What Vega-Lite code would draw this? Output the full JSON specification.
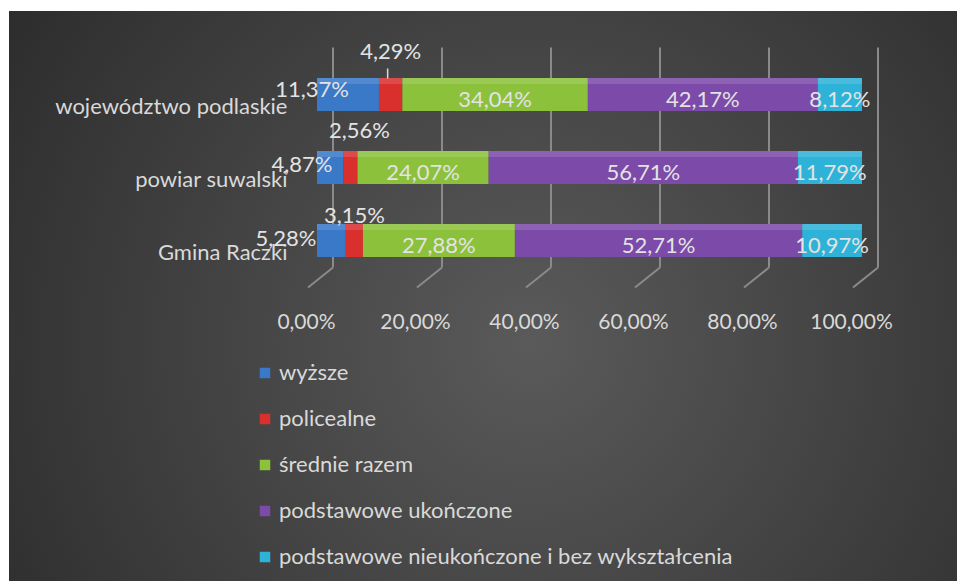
{
  "$schema": "https://vega.github.io/schema/vega-lite/v6.json",
  "width": 957,
  "height": 581,
  "autosize": {"type": "fit", "contains": "padding"},
  "padding": {"left": 9, "top": 11, "right": 0, "bottom": 0},
  "background": "#ffffff",
  "config": {
    "view": {
      "stroke": null,
      "fill": {
        "gradient": "radial",
        "x1": 0.55, "y1": 0.55, "r1": 0,
        "x2": 0.55, "y2": 0.55, "r2": 0.75,
        "stops": [
          {"offset": 0, "color": "#5a5a5a"},
          {"offset": 1, "color": "#262626"}
        ]
      }
    },
    "font": "Lato",
    "text": {"font": "Lato", "fontSize": 22, "color": "#e3e3e3", "align": "center", "baseline": "middle"},
    "axisX": {"orient": "bottom", "offset": -281, "domain": false, "ticks": false, "grid": false, "labelPadding": 11, "labelFontSize": 21, "labelColor": "#d9d9d9", "labelOffset": -11, "labelFont": "Lato", "title": null},
    "axisY": {"orient": "left", "offset": -281, "domain": false, "ticks": false, "grid": false, "labelPadding": 3, "labelFontSize": 22, "labelColor": "#d9d9d9", "labelOffset": 12, "labelFont": "Lato", "labelLimit": 400, "title": null}
  },
  "datasets": {
    "edu": [
      {"obszar": "województwo podlaskie", "kat": "wyższe", "v": 11.37},
      {"obszar": "województwo podlaskie", "kat": "policealne", "v": 4.29},
      {"obszar": "województwo podlaskie", "kat": "średnie razem", "v": 34.04},
      {"obszar": "województwo podlaskie", "kat": "podstawowe ukończone", "v": 42.17},
      {"obszar": "województwo podlaskie", "kat": "podstawowe nieukończone i bez wykształcenia", "v": 8.12},
      {"obszar": "powiar suwalski", "kat": "wyższe", "v": 4.87},
      {"obszar": "powiar suwalski", "kat": "policealne", "v": 2.56},
      {"obszar": "powiar suwalski", "kat": "średnie razem", "v": 24.07},
      {"obszar": "powiar suwalski", "kat": "podstawowe ukończone", "v": 56.71},
      {"obszar": "powiar suwalski", "kat": "podstawowe nieukończone i bez wykształcenia", "v": 11.79},
      {"obszar": "Gmina Raczki", "kat": "wyższe", "v": 5.28},
      {"obszar": "Gmina Raczki", "kat": "policealne", "v": 3.15},
      {"obszar": "Gmina Raczki", "kat": "średnie razem", "v": 27.88},
      {"obszar": "Gmina Raczki", "kat": "podstawowe ukończone", "v": 52.71},
      {"obszar": "Gmina Raczki", "kat": "podstawowe nieukończone i bez wykształcenia", "v": 10.97}
    ],
    "grid": [{"v": 0}, {"v": 20}, {"v": 40}, {"v": 60}, {"v": 80}, {"v": 100}]
  },
  "layer": [
    {
      "data": {"name": "grid"},
      "mark": {"type": "rule", "color": "#8a8a8a", "strokeWidth": 2, "xOffset": 16, "x2Offset": 16, "yOffset": -47, "y2Offset": 27},
      "encoding": {
        "x": {"field": "v", "type": "quantitative", "title": null, "axis": {"values": [0, 20, 40, 60, 80, 100], "labelExpr": "replace(format(datum.value, '.2f'), '.', ',') + '%'"}},
        "x2": {"field": "v"},
        "y": {"datum": "województwo podlaskie", "type": "nominal", "title": null},
        "y2": {"datum": "Gmina Raczki"}
      }
    },
    {
      "data": {"name": "grid"},
      "mark": {"type": "rule", "color": "#8a8a8a", "strokeWidth": 2, "xOffset": 16, "x2Offset": -9, "yOffset": 27, "y2Offset": 47},
      "encoding": {
        "x": {"field": "v", "type": "quantitative", "title": null, "axis": {"values": [0, 20, 40, 60, 80, 100], "labelExpr": "replace(format(datum.value, '.2f'), '.', ',') + '%'"}},
        "x2": {"field": "v"},
        "y": {"datum": "Gmina Raczki", "type": "nominal", "title": null},
        "y2": {"datum": "Gmina Raczki"}
      }
    },
    {
      "data": {"name": "edu"},
      "transform": [
        {"calculate": "indexof(['wyższe','policealne','średnie razem','podstawowe ukończone','podstawowe nieukończone i bez wykształcenia'], datum.kat)", "as": "ord"},
        {"stack": "v", "groupby": ["obszar"], "sort": [{"field": "ord", "order": "ascending"}], "as": ["x0", "x1"]},
        {"calculate": "(datum.x0 + datum.x1) / 2", "as": "mid"},
        {"calculate": "replace(format(datum.v, '.2f'), '.', ',') + '%'", "as": "lbl"}
      ],
      "layer": [
        {
          "mark": {"type": "bar"},
          "encoding": {
            "y": {
              "field": "obszar", "type": "nominal", "title": null,
              "scale": {"domain": ["województwo podlaskie", "powiar suwalski", "Gmina Raczki"], "range": [47, 266], "paddingInner": 0.548, "paddingOuter": 0.274}
            },
            "x": {
              "field": "x0", "type": "quantitative", "title": null,
              "scale": {"domain": [-56.51, 117.43], "nice": false, "zero": false},
              "axis": {"values": [0, 20, 40, 60, 80, 100], "labelExpr": "replace(format(datum.value, '.2f'), '.', ',') + '%'"}
            },
            "x2": {"field": "x1"},
            "color": {
              "field": "kat", "type": "nominal",
              "scale": {
                "domain": ["wyższe", "policealne", "średnie razem", "podstawowe ukończone", "podstawowe nieukończone i bez wykształcenia"],
                "range": ["#3a78c8", "#d9302e", "#8cc13c", "#7c4aa8", "#2eb2d8"]
              },
              "legend": {"title": null, "orient": "none", "legendX": 245, "legendY": 351, "symbolType": "square", "symbolSize": 110, "symbolStrokeWidth": 0, "labelFontSize": 22, "labelColor": "#d9d9d9", "labelFont": "Lato", "rowPadding": 24, "labelOffset": 3, "labelLimit": 700}
            }
          }
        },
        {
          "mark": {"type": "bar", "size": 6, "yOffset": -13.5, "color": "#ffffff", "opacity": 0.13},
          "encoding": {
            "y": {"field": "obszar", "type": "nominal", "title": null},
            "x": {"field": "x0", "type": "quantitative", "title": null, "axis": {"values": [0, 20, 40, 60, 80, 100], "labelExpr": "replace(format(datum.value, '.2f'), '.', ',') + '%'"}},
            "x2": {"field": "x1"}
          }
        },
        {
          "transform": [{"filter": "datum.ord >= 2"}],
          "mark": {"type": "text", "dy": 5},
          "encoding": {
            "x": {"field": "mid", "type": "quantitative", "title": null},
            "y": {"field": "obszar", "type": "nominal", "title": null},
            "text": {"field": "lbl"}
          }
        },
        {
          "transform": [{"filter": "datum.ord == 0 && datum.obszar == 'województwo podlaskie'"}],
          "mark": {"type": "text", "dx": -5, "dy": -5},
          "encoding": {
            "x": {"field": "x0", "type": "quantitative", "title": null},
            "y": {"field": "obszar", "type": "nominal", "title": null},
            "text": {"field": "lbl"}
          }
        },
        {
          "transform": [{"filter": "datum.ord == 0 && datum.obszar == 'powiar suwalski'"}],
          "mark": {"type": "text", "dx": -15, "dy": -3},
          "encoding": {
            "x": {"field": "x0", "type": "quantitative", "title": null},
            "y": {"field": "obszar", "type": "nominal", "title": null},
            "text": {"field": "lbl"}
          }
        },
        {
          "transform": [{"filter": "datum.ord == 0 && datum.obszar == 'Gmina Raczki'"}],
          "mark": {"type": "text", "dx": -31, "dy": -2},
          "encoding": {
            "x": {"field": "x0", "type": "quantitative", "title": null},
            "y": {"field": "obszar", "type": "nominal", "title": null},
            "text": {"field": "lbl"}
          }
        },
        {
          "transform": [{"filter": "datum.ord == 1 && datum.obszar == 'województwo podlaskie'"}],
          "mark": {"type": "text", "dx": 0, "dy": -43},
          "encoding": {
            "x": {"field": "mid", "type": "quantitative", "title": null},
            "y": {"field": "obszar", "type": "nominal", "title": null},
            "text": {"field": "lbl"}
          }
        },
        {
          "transform": [{"filter": "datum.ord == 1 && datum.obszar == 'województwo podlaskie'"}],
          "mark": {"type": "rule", "color": "#d9d9d9", "strokeWidth": 1.5, "xOffset": -3, "x2Offset": -3, "yOffset": -26, "y2Offset": -16},
          "encoding": {
            "x": {"field": "mid", "type": "quantitative", "title": null},
            "x2": {"field": "mid"},
            "y": {"field": "obszar", "type": "nominal", "title": null},
            "y2": {"field": "obszar"}
          }
        },
        {
          "transform": [{"filter": "datum.ord == 1 && datum.obszar == 'powiar suwalski'"}],
          "mark": {"type": "text", "dx": 9, "dy": -37},
          "encoding": {
            "x": {"field": "mid", "type": "quantitative", "title": null},
            "y": {"field": "obszar", "type": "nominal", "title": null},
            "text": {"field": "lbl"}
          }
        },
        {
          "transform": [{"filter": "datum.ord == 1 && datum.obszar == 'Gmina Raczki'"}],
          "mark": {"type": "text", "dx": 0, "dy": -25},
          "encoding": {
            "x": {"field": "mid", "type": "quantitative", "title": null},
            "y": {"field": "obszar", "type": "nominal", "title": null},
            "text": {"field": "lbl"}
          }
        }
      ]
    }
  ]
}
